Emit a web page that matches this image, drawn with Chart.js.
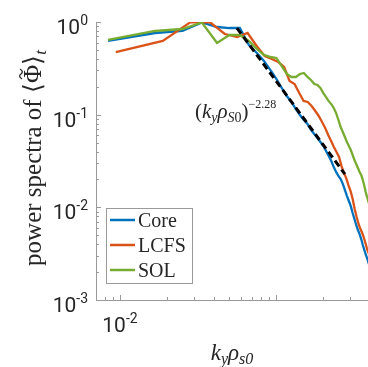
<!DOCTYPE html>
<html>
<head>
<meta charset="utf-8">
<script src="https://cdn.jsdelivr.net/npm/chart.js@4.4.0/dist/chart.umd.min.js"></script>
<style>
  html, body { margin: 0; padding: 0; background: #fff; }
  canvas { display: block; }
</style>
</head>
<body>
<canvas id="c" width="368" height="367"></canvas>
<script>
// k_y rho_s0 sample points: Core and SOL share one grid, LCFS its own
var kGrid = [0.00838, 0.01676, 0.02514, 0.03352, 0.0419, 0.05028, 0.05866, 0.06704, 0.07542, 0.0838,
  0.09218, 0.10056, 0.10894, 0.11732, 0.1257, 0.13408, 0.14246, 0.15084, 0.15922, 0.1676,
  0.17598, 0.18436, 0.19274, 0.20112, 0.2095, 0.21788, 0.22626, 0.23464, 0.24302, 0.2514,
  0.25978, 0.26816, 0.27654, 0.28492, 0.2933, 0.30168, 0.31006, 0.31844, 0.32682, 0.3352,
  0.34358, 0.35196, 0.36034, 0.36872, 0.3771, 0.38548, 0.39386];
var kGridLcfs = [0.0094, 0.0188, 0.0282, 0.0376, 0.047, 0.0564, 0.0658, 0.0752, 0.0846, 0.094,
  0.1034, 0.1128, 0.1222, 0.1316, 0.141, 0.1504, 0.1598, 0.1692, 0.1786, 0.188,
  0.1974, 0.2068, 0.2162, 0.2256, 0.235, 0.2444, 0.2538, 0.2632, 0.2726, 0.282,
  0.2914, 0.3008, 0.3102, 0.3196, 0.329, 0.3384, 0.3478, 0.3572, 0.3666, 0.376,
  0.3854, 0.3948];

var core = [0.624, 0.761, 0.800, 0.988, 0.883, 0.861, 0.861, 0.565, 0.463, 0.380,
  0.303, 0.243, 0.194, 0.159, 0.137, 0.115, 0.0992, 0.0876, 0.0793, 0.0684,
  0.0618, 0.0560, 0.0507, 0.0459, 0.0405, 0.0358, 0.0316, 0.0272, 0.0241, 0.0218,
  0.0202, 0.0179, 0.0154, 0.0133, 0.0117, 0.0103, 0.00868, 0.00748, 0.00645, 0.00569,
  0.00515, 0.00455, 0.00392, 0.00346, 0.00306, 0.00277, 0.00245];
var lcfs = [0.474, 0.624, 0.99, 1.0, 0.742, 0.689, 0.761, 0.551, 0.430, 0.399,
  0.370, 0.327, 0.231, 0.214, 0.171, 0.1405, 0.137, 0.124, 0.1096, 0.0968,
  0.0833, 0.0718, 0.0604, 0.0519, 0.0448, 0.0395, 0.0349, 0.0279, 0.0235, 0.0207,
  0.0174, 0.0150, 0.0123, 0.0096, 0.00787, 0.00661, 0.00583, 0.00528, 0.00467, 0.00402,
  0.00347, 0.00314];
var sol = [0.640, 0.800, 0.840, 0.988, 0.593, 0.724, 0.724, 0.624, 0.511, 0.441,
  0.419, 0.409, 0.335, 0.275, 0.255, 0.255, 0.275, 0.282, 0.255, 0.237,
  0.214, 0.209, 0.194, 0.171, 0.155, 0.140, 0.130, 0.118, 0.104, 0.0876,
  0.0736, 0.0650, 0.0574, 0.0507, 0.0459, 0.0416, 0.0367, 0.0324, 0.0294, 0.0266,
  0.0241, 0.0223, 0.0197, 0.0170, 0.0143, 0.0126, 0.0111];

// power-law guide (k_y rho_S0)^-2.28, end points
var fitK = [0.0562, 0.2767];
var fitP = [0.861, 0.0228];

var seriesNames = ['Core', 'LCFS', 'SOL'];
var xTickLabels = [{ v: 0.01, exp: '-2' }];
var yTickLabels = [{ v: 1, exp: '0' }, { v: 0.1, exp: '-1' }, { v: 0.01, exp: '-2' }, { v: 0.001, exp: '-3' }];

var C_BLUE = '#0072BD', C_ORANGE = '#D95319', C_GREEN = '#77AC30';
var TXT = '#262626', AXIS = '#9a9a9a';
var SERIF = "'Liberation Serif', 'Times New Roman', serif";
var SANS = "Roboto, 'Liberation Sans', sans-serif";

function pts(xs, ys) {
  return ys.map(function (y, i) { return { x: xs[i], y: y }; });
}

function drawRuns(ctx, runs, x, y) {
  runs.forEach(function (r) {
    ctx.font = r.f;
    var w = ctx.measureText(r.t).width;
    ctx.fillText(r.t, x, y + (r.dy || 0));
    if (r.tilde) {
      // hand-drawn tilde accent centred over the glyph
      var cx = x + w / 2, ty = y - r.tilde;
      ctx.save();
      ctx.strokeStyle = ctx.fillStyle;
      ctx.lineWidth = 1.3;
      ctx.beginPath();
      ctx.moveTo(cx - 5, ty + 1);
      ctx.bezierCurveTo(cx - 3, ty - 2.5, cx - 1, ty - 1.5, cx, ty);
      ctx.bezierCurveTo(cx + 1, ty + 1.5, cx + 3, ty + 2.5, cx + 5, ty - 1);
      ctx.stroke();
      ctx.restore();
    }
    x += w;
  });
  return x;
}
function runsWidth(ctx, runs) {
  var w = 0;
  runs.forEach(function (r) { ctx.font = r.f; w += ctx.measureText(r.t).width; });
  return w;
}
function powRuns(exp) {
  return [{ t: '10', f: '21px ' + SANS }, { t: exp, f: '14px ' + SANS, dy: -9 }];
}

// MATLAB-style axes: inward ticks, no grid, power-of-ten labels
var axesPlugin = {
  id: 'matlabAxes',
  beforeDatasetsDraw: function (chart) {
    var ctx = chart.ctx, a = chart.chartArea;
    var xs = chart.scales.x, ys = chart.scales.y;
    ctx.save();
    ctx.strokeStyle = AXIS;
    ctx.lineWidth = 1;
    ctx.beginPath();
    ctx.moveTo(a.left + 0.5, a.top);
    ctx.lineTo(a.left + 0.5, a.bottom + 0.5);
    ctx.lineTo(a.right, a.bottom + 0.5);
    ctx.stroke();
    ctx.beginPath();
    for (var d = -3; d <= 0; d++) {
      for (var m = 1; m <= 9; m++) {
        var v = m * Math.pow(10, d);
        if (v >= xs.min && v <= xs.max) {
          var px = Math.round(xs.getPixelForValue(v)) + 0.5;
          ctx.moveTo(px, a.bottom); ctx.lineTo(px, a.bottom - (m === 1 ? 5 : 3));
        }
        if (v >= ys.min && v <= ys.max) {
          var py = Math.round(ys.getPixelForValue(v)) + 0.5;
          ctx.moveTo(a.left, py); ctx.lineTo(a.left + (m === 1 ? 5 : 3), py);
        }
      }
    }
    ctx.stroke();

    ctx.fillStyle = TXT;
    ctx.textBaseline = 'alphabetic';
    ctx.textAlign = 'left';
    yTickLabels.forEach(function (t) {
      var r = powRuns(t.exp);
      var y = ys.getPixelForValue(t.v);
      drawRuns(ctx, r, 88 - runsWidth(ctx, r), y + 12);
    });
    xTickLabels.forEach(function (t) {
      var r = powRuns(t.exp);
      var x = xs.getPixelForValue(t.v);
      drawRuns(ctx, r, x - runsWidth(ctx, r) / 2, 332);
    });

    // x title: k_y rho_s0
    var xr = [
      { t: 'k', f: 'italic 23px ' + SERIF },
      { t: 'y', f: 'italic 16px ' + SERIF, dy: 4 },
      { t: 'ρ', f: 'italic 23px ' + SERIF },
      { t: 's0', f: 'italic 16px ' + SERIF, dy: 4 }
    ];
    drawRuns(ctx, xr, (a.left + a.right) / 2 - runsWidth(ctx, xr) / 2, 360);

    // y title
    var yr = [
      { t: 'power spectra of ', f: '25px ' + SERIF },
      { t: '⟨', f: '25px ' + SERIF },
      { t: 'Φ', f: '25px ' + SERIF, tilde: 20 },
      { t: '⟩', f: '25px ' + SERIF },
      { t: 't', f: 'italic 17px ' + SERIF, dy: 5 }
    ];
    ctx.save();
    ctx.translate(41, 158);
    ctx.rotate(-Math.PI / 2);
    drawRuns(ctx, yr, -runsWidth(ctx, yr) / 2, 0);
    ctx.restore();
    ctx.restore();
  },
  afterDatasetsDraw: function (chart) {
    var ctx = chart.ctx;
    ctx.save();
    ctx.fillStyle = TXT;
    ctx.textAlign = 'left';
    ctx.textBaseline = 'alphabetic';
    // slope annotation
    drawRuns(ctx, [
      { t: '(', f: '21px ' + SERIF },
      { t: 'k', f: 'italic 21px ' + SERIF },
      { t: 'y', f: 'italic 14px ' + SERIF, dy: 4 },
      { t: 'ρ', f: 'italic 21px ' + SERIF },
      { t: 'S', f: 'italic 14px ' + SERIF, dy: 4 },
      { t: '0', f: '14px ' + SERIF, dy: 4 },
      { t: ')', f: '21px ' + SERIF },
      { t: '−2.28', f: '12px ' + SERIF, dy: -10 }
    ], 195, 118);

    // legend box
    var lx = 106.5, ly = 208.5, lw = 86, lh = 75;
    ctx.fillStyle = '#fff';
    ctx.fillRect(lx, ly, lw, lh);
    ctx.strokeStyle = AXIS;
    ctx.lineWidth = 1;
    ctx.strokeRect(lx, ly, lw, lh);
    var cols = [C_BLUE, C_ORANGE, C_GREEN];
    seriesNames.forEach(function (name, i) {
      var y = 220 + i * 25;
      ctx.strokeStyle = cols[i];
      ctx.lineWidth = 2.5;
      ctx.beginPath();
      ctx.moveTo(110, y); ctx.lineTo(135, y);
      ctx.stroke();
      ctx.fillStyle = TXT;
      ctx.font = '20px ' + SERIF;
      ctx.fillText(name, 138, y + 7);
    });
    ctx.restore();
  }
};

new Chart(document.getElementById('c'), {
  type: 'line',
  data: {
    datasets: [
      { label: 'fit', data: pts(fitK, fitP), borderColor: '#000', borderWidth: 3, borderDash: [7, 4], order: 0 },
      { label: seriesNames[2], data: pts(kGrid, sol), borderColor: C_GREEN, borderWidth: 2.3, order: 1 },
      { label: seriesNames[1], data: pts(kGridLcfs, lcfs), borderColor: C_ORANGE, borderWidth: 2.3, order: 2 },
      { label: seriesNames[0], data: pts(kGrid, core), borderColor: C_BLUE, borderWidth: 2.3, order: 3 }
    ]
  },
  options: {
    responsive: false,
    animation: false,
    layout: { padding: { top: 22, right: 0, left: 0, bottom: 0 } },
    elements: { point: { radius: 0 }, line: { tension: 0, fill: false } },
    plugins: { legend: { display: false }, tooltip: { enabled: false } },
    scales: {
      x: {
        type: 'logarithmic', min: 0.00702, max: 0.389,
        grid: { display: false }, border: { display: false }, ticks: { display: false },
        afterFit: function (s) { s.height = 67; }
      },
      y: {
        type: 'logarithmic', min: 0.001, max: 1,
        grid: { display: false }, border: { display: false }, ticks: { display: false },
        afterFit: function (s) { s.width = 96; }
      }
    }
  },
  plugins: [axesPlugin]
});
</script>
</body>
</html>
